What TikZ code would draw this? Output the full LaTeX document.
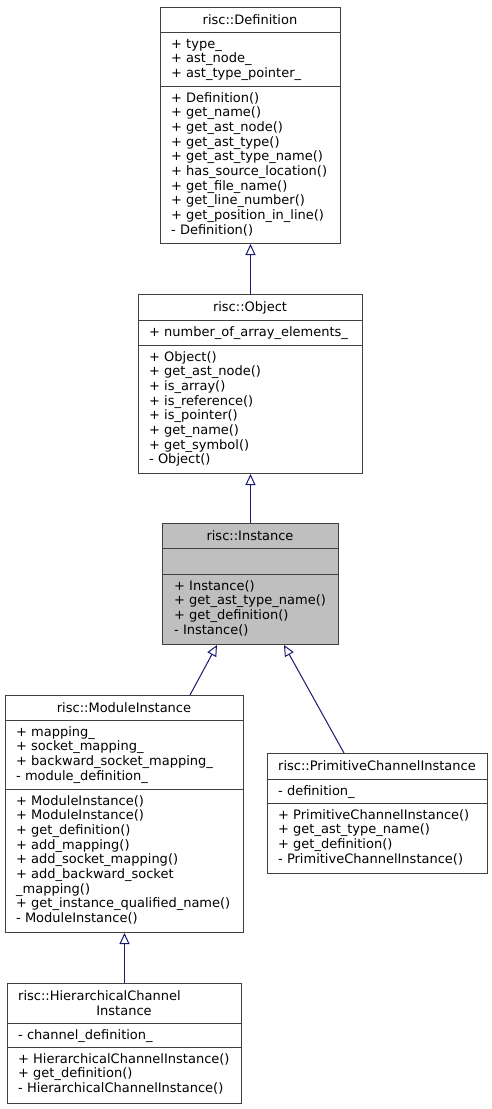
\documentclass[tikz,border=0pt]{standalone}
\usepackage{fontspec}
\setmainfont{DejaVu Sans}
\usetikzlibrary{arrows.meta,calc}
\definecolor{navy}{HTML}{191970}
\definecolor{boxgray}{HTML}{BFBFBF}
\definecolor{edgegray}{HTML}{404040}

\begin{document}
\begin{tikzpicture}[x=1pt,y=-1pt,font=\fontsize{13}{14.67}\selectfont]
    \tikzstyle{classbox}=[rectangle, draw=edgegray, line width=1pt, anchor=north west, inner sep=0pt]
    \tikzstyle{divider}=[draw=edgegray, line width=1pt]
    \tikzstyle{classname}=[anchor=base, inner sep=0pt]
    \tikzstyle{member}=[anchor=base west, inner sep=0pt]
    \tikzstyle{inherit}=[draw=navy, line width=1pt, -{Triangle[open, length=11pt, width=10pt, fill=white]}]
    \useasboundingbox (0,0) rectangle (492,1109);

    \node[classbox, minimum width=180, minimum height=236] (def) at (160,7) {};
    \draw[divider] (160,32) -- (340,32) (160,86) -- (340,86);
    \node[classname] (def-title) at (250,24.5) {risc::Definition};
    \foreach \t [count=\i] in {+ type\_, + ast\_node\_, + ast\_type\_pointer\_}
        \node[member] (def-a\i) at (171,33.33+14.67*\i) {\t};
    \foreach \t [count=\i] in {+ Definition(), + get\_name(), + get\_ast\_node(), + get\_ast\_type(),
        + get\_ast\_type\_name(), + has\_source\_location(), + get\_file\_name(),
        + get\_line\_number(), + get\_position\_in\_line(), - Definition()}
        \node[member] (def-m\i) at (171,87.33+14.67*\i) {\t};

    \node[classbox, minimum width=224, minimum height=179] (obj) at (138,294) {};
    \draw[divider] (138,320) -- (362,320) (138,345) -- (362,345);
    \node[classname] (obj-title) at (250,311.5) {risc::Object};
    \node[member] (obj-a1) at (149,336) {+ number\_of\_array\_elements\_};
    \foreach \t [count=\i] in {+ Object(), + get\_ast\_node(), + is\_array(), + is\_reference(),
        + is\_pointer(), + get\_name(), + get\_symbol(), - Object()}
        \node[member] (obj-m\i) at (149,346.33+14.67*\i) {\t};

    \node[classbox, fill=boxgray, minimum width=176, minimum height=121] (ins) at (162,523) {};
    \draw[divider] (162,548) -- (338,548) (162,574) -- (338,574);
    \node[classname] (ins-title) at (250,540.5) {risc::Instance};
    \foreach \t [count=\i] in {+ Instance(), + get\_ast\_type\_name(), + get\_definition(), - Instance()}
        \node[member] (ins-m\i) at (174,575.33+14.67*\i) {\t};

    \node[classbox, minimum width=238, minimum height=237] (mod) at (5,695) {};
    \draw[divider] (5,720) -- (243,720) (5,789) -- (243,789);
    \node[classname] (mod-title) at (124,712.5) {risc::ModuleInstance};
    \foreach \t [count=\i] in {+ mapping\_, + socket\_mapping\_, + backward\_socket\_mapping\_, - module\_definition\_}
        \node[member] (mod-a\i) at (16,721.33+14.67*\i) {\t};
    \foreach \t [count=\i] in {+ ModuleInstance(), + ModuleInstance(), + get\_definition(), + add\_mapping(),
        + add\_socket\_mapping(), + add\_backward\_socket, \_mapping(),
        + get\_instance\_qualified\_name(), - ModuleInstance()}
        \node[member] (mod-m\i) at (16,790.33+14.67*\i) {\t};

    \node[classbox, minimum width=220, minimum height=120] (pci) at (267,753) {};
    \draw[divider] (267,779) -- (487,779) (267,803) -- (487,803);
    \node[classname] (pci-title) at (377,770.5) {risc::PrimitiveChannelInstance};
    \node[member] (pci-a1) at (278,795) {- definition\_};
    \foreach \t [count=\i] in {+ PrimitiveChannelInstance(), + get\_ast\_type\_name(), + get\_definition(),
        - PrimitiveChannelInstance()}
        \node[member] (pci-m\i) at (278,804.33+14.67*\i) {\t};

    \node[classbox, minimum width=234, minimum height=120] (hci) at (7,983) {};
    \draw[divider] (7,1023) -- (241,1023) (7,1047) -- (241,1047);
    \node[member] (hci-title) at (18,1000.5) {risc::HierarchicalChannel};
    \node[classname] (hci-title2) at (124,1015.2) {Instance};
    \node[member] (hci-a1) at (18,1039) {- channel\_definition\_};
    \foreach \t [count=\i] in {+ HierarchicalChannelInstance(), + get\_definition(), - HierarchicalChannelInstance()}
        \node[member] (hci-m\i) at (18,1048.33+14.67*\i) {\t};

    \draw[inherit] (obj.north) -- (def.south);
    \draw[inherit] (ins.north) -- (obj.south);
    \draw[inherit] ($(mod.north west)+(185,0)$) -- ($(ins.south west)+(55,0)$);
    \draw[inherit] ($(pci.north west)+(77,0)$) -- ($(ins.south west)+(122,0)$);
    \draw[inherit] (hci.north) -- (mod.south);
\end{tikzpicture}
\end{document}
